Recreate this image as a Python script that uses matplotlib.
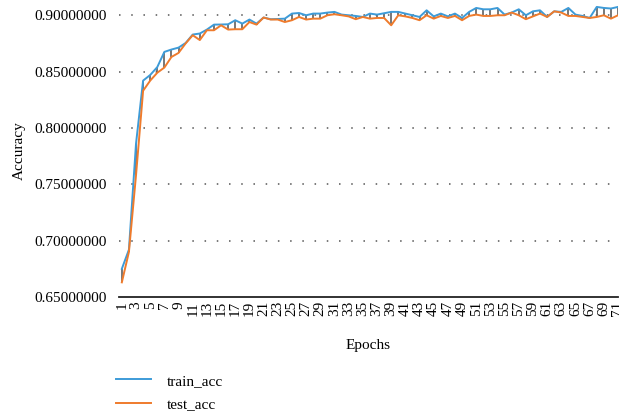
import matplotlib
matplotlib.use("Agg")
import matplotlib.pyplot as plt

plt.rcParams['font.family'] = ['Liberation Serif', 'DejaVu Serif']

# accuracy per epoch
epochs = list(range(1, 72))
train_acc = [0.675, 0.692, 0.786, 0.842, 0.847, 0.854, 0.8675, 0.8696, 0.8713, 0.8754,
             0.8829, 0.8838, 0.8873, 0.8917, 0.8918, 0.892, 0.8956, 0.8926, 0.8962, 0.8926,
             0.898, 0.8965, 0.8967, 0.897, 0.9015, 0.902, 0.900, 0.9015, 0.9015, 0.9024,
             0.903, 0.9006, 0.900, 0.8994, 0.8985, 0.9015, 0.9006, 0.9018, 0.903, 0.903,
             0.9015, 0.900, 0.8985, 0.9044, 0.899, 0.9015, 0.899, 0.9015, 0.8976, 0.903,
             0.9065, 0.9053, 0.9053, 0.9065, 0.9006, 0.9024, 0.9053, 0.900, 0.9035, 0.9044,
             0.8985, 0.9035, 0.903, 0.9065, 0.9006, 0.8994, 0.8976, 0.9074, 0.9065, 0.906,
             0.9074]
test_acc = [0.663, 0.690, 0.758, 0.833, 0.842, 0.849, 0.8536, 0.863, 0.8666, 0.875,
            0.8823, 0.878, 0.8867, 0.8867, 0.8911, 0.8873, 0.8876, 0.8876, 0.894, 0.8917,
            0.898, 0.8962, 0.8962, 0.894, 0.8956, 0.8985, 0.8962, 0.897, 0.897, 0.900,
            0.9009, 0.900, 0.899, 0.8965, 0.8985, 0.897, 0.8976, 0.8976, 0.8911, 0.900,
            0.899, 0.8976, 0.8956, 0.900, 0.897, 0.8994, 0.8976, 0.8994, 0.8956, 0.8994,
            0.9006, 0.8994, 0.8994, 0.900, 0.900, 0.9024, 0.900, 0.8965, 0.899, 0.9015,
            0.8985, 0.9035, 0.9024, 0.8994, 0.8994, 0.8985, 0.8976, 0.8985, 0.900, 0.897,
            0.900]
yticks = [0.65, 0.70, 0.75, 0.80, 0.85, 0.90]

fig = plt.figure(figsize=(6.19, 4.15), dpi=100)
ax = fig.add_axes([119/619, 1-297/415, 499/619, 293/415])

# high-low lines between the two series
ax.vlines(epochs, test_acc, train_acc, color='#606060', lw=1.2, zorder=2)
ax.plot(epochs, train_acc, color='#3d9bd8', lw=1.4, label='train_acc', zorder=3)
ax.plot(epochs, test_acc, color='#ef7b2c', lw=1.4, label='test_acc', zorder=3)

ax.set_xlim(0.6, 71.0)
ax.set_ylim(0.65, 0.91)
ax.set_yticks(yticks)
ax.set_yticklabels(['%.8f' % v for v in yticks], fontsize=11)
ax.set_xticks(epochs[::2])
ax.set_xticklabels([str(e) for e in epochs[::2]], rotation=90, fontsize=11)
ax.tick_params(axis='both', length=0)
ax.tick_params(axis='y', pad=9)
ax.tick_params(axis='x', pad=3)

for v in yticks[1:]:
    ax.axhline(v, color='#555555', lw=1.1, ls=(0, (1, 7)), zorder=1)

for s in ['top', 'right', 'left']:
    ax.spines[s].set_visible(False)
ax.spines['bottom'].set_linewidth(1.3)
ax.spines['bottom'].set_color('#222222')

ax.set_ylabel('Accuracy', fontsize=11, labelpad=6)
ax.set_xlabel('Epochs', fontsize=11, labelpad=16)

fig.legend(loc='upper left', bbox_to_anchor=(116/619, 1-374/415), frameon=False,
           fontsize=11, handlelength=2.3, handletextpad=1.0, labelspacing=0.68,
           borderpad=0, borderaxespad=0)

fig.savefig('out.png', dpi=100)
